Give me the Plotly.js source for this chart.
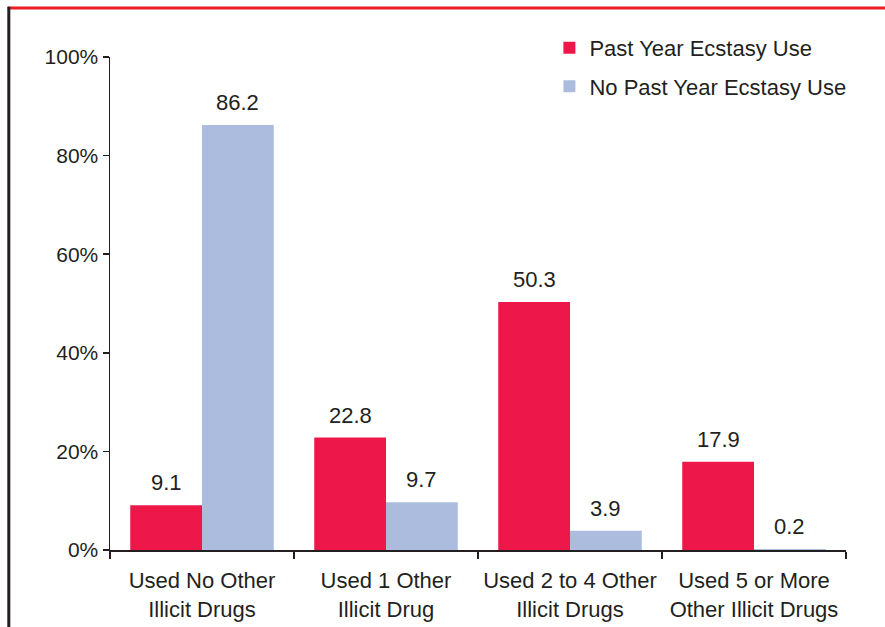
<!DOCTYPE html>
<html><head><meta charset="utf-8">
<script src="https://cdn.plot.ly/plotly-3.0.1.min.js"></script>
<style>body{margin:0;padding:0;background:#fff}#chart{width:885px;height:627px}</style>
</head><body><div id="chart"></div>
<script>
const categories = ["Used No Other<br>Illicit Drugs", "Used 1 Other<br>Illicit Drug", "Used 2 to 4 Other<br>Illicit Drugs", "Used 5 or More<br>Other Illicit Drugs"];
const pastYear = [9.1, 22.8, 50.3, 17.9];
const noPastYear = [86.2, 9.7, 3.9, 0.2];
const seriesNames = ["Past Year Ecstasy Use", "No Past Year Ecstasy Use"];
const yTicks = [0, 20, 40, 60, 80, 100];
const yTickText = ["0%", "20%", "40%", "60%", "80%", "100%"];

const ink = "#231f20";
const colors = ["#ed1849", "#abbcde"];
const bargap = 0.22;
const traces = [
  {type: "bar", name: seriesNames[0], legendgroup: "a", x: categories, y: pastYear, marker: {color: colors[0]}},
  {type: "bar", name: seriesNames[1], legendgroup: "b", x: categories, y: noPastYear, marker: {color: colors[1]}}
];
const half = (1 - bargap) / 4;
const annotations = [];
[pastYear, noPastYear].forEach((vals, s) => {
  vals.forEach((v, i) => {
    annotations.push({x: i + (s === 0 ? -half : half), y: v, xref: "x", yref: "y",
      text: v.toFixed(1), showarrow: false, yanchor: "bottom", yshift: 8,
      font: {size: 22, color: ink, family: "Liberation Sans, Arial, sans-serif"}});
  });
});
const layout = {
  width: 885, height: 627,
  margin: {l: 110, r: 39, t: 57, b: 77},
  paper_bgcolor: "#fff", plot_bgcolor: "#fff",
  font: {family: "Liberation Sans, Arial, sans-serif", size: 21, color: ink},
  barmode: "group", bargap: bargap, bargroupgap: 0,
  showlegend: true,
  legend: {x: 0.597, y: 1.061, xanchor: "left", yanchor: "top", font: {size: 22, color: ink},
           bgcolor: "rgba(0,0,0,0)", traceorder: "grouped", tracegroupgap: 7, itemwidth: 30},
  xaxis: {showline: true, linecolor: ink, linewidth: 1.5, ticks: "outside", tickson: "boundaries",
          ticklen: 7, tickcolor: ink, tickwidth: 1.5, showgrid: false, zeroline: false,
          ticklabelstandoff: 10, tickfont: {size: 22, color: ink}},
  yaxis: {range: [0, 100], tickvals: yTicks, ticktext: yTickText, showline: true, linecolor: ink,
          linewidth: 1.5, ticks: "outside", ticklen: 6, tickcolor: ink, tickwidth: 1.5,
          showgrid: false, zeroline: false, tickfont: {size: 21, color: ink}},
  annotations: annotations,
  shapes: [
    {type: "line", xref: "paper", yref: "paper", x0: -0.139, x1: 1.06, y0: 1.0994, y1: 1.0994,
     line: {color: "#ed1c24", width: 3}},
    {type: "line", xref: "paper", yref: "paper", x0: -0.1375, x1: -0.1375, y0: 1.102, y1: -0.2,
     line: {color: ink, width: 3}}
  ]
};
Plotly.newPlot("chart", traces, layout, {displayModeBar: false, staticPlot: true});
</script></body></html>
